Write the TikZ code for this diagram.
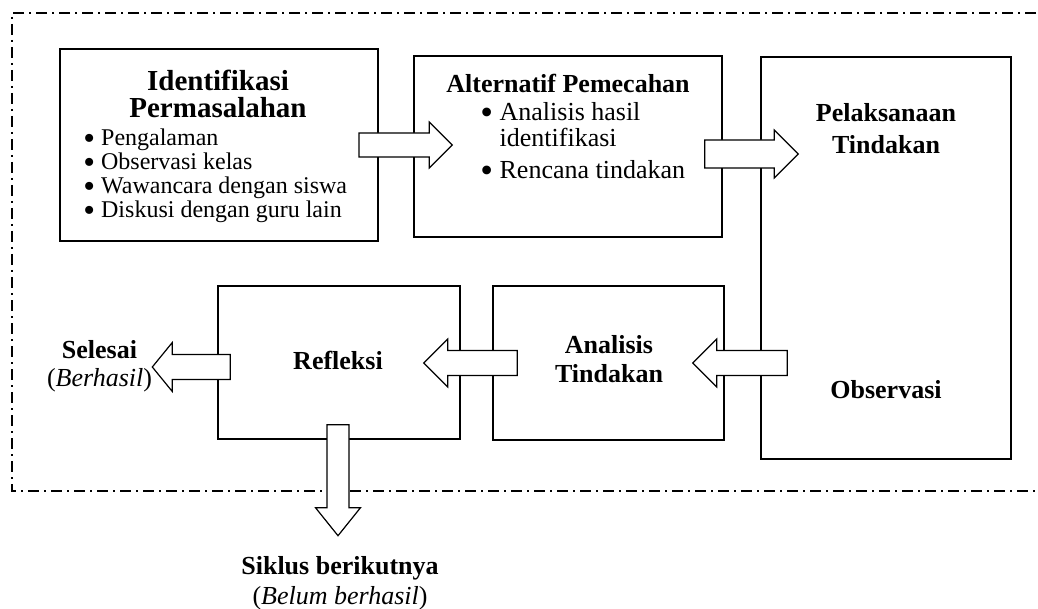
\documentclass[tikz,border=0pt]{standalone}
\usepackage{fontspec}
\setmainfont{Liberation Serif}
\usepackage{tikz}
\usetikzlibrary{calc,positioning}

% hollow block arrow: tail, tip, half shaft, half head, head length
\newcommand{\blockarrow}[5]{%
  \coordinate (hb) at ($(#2)!#5!(#1)$);
  \filldraw[arrowline] ($(#1)!#3!90:(#2)$) -- ($(hb)!#3!90:(#2)$) -- ($(hb)!#4!90:(#2)$) -- (#2)
    -- ($(hb)!#4!-90:(#2)$) -- ($(hb)!#3!-90:(#2)$) -- ($(#1)!#3!-90:(#2)$) -- cycle;}
\newcommand{\bul}{\raisebox{-0.32ex}[0pt][0pt]{\scalebox{1.4}{\textbullet}}\ }

\begin{document}
\begin{tikzpicture}[x=0.5pt,y=-0.5pt,
    box/.style={draw,line width=0.7pt,inner sep=0pt},
    arrowline/.style={draw,fill=white,line width=0.6pt,line join=miter},
    title/.style={font=\fontsize{13}{16}\selectfont\bfseries,align=center,inner sep=0pt},
    bullets/.style={align=left,inner sep=0pt,anchor=west}]
    \useasboundingbox (0,0) rectangle (1038,609);
    % outer frame, open on the right
    \draw[line width=0.6pt,dash pattern=on 5.5pt off 2.5pt on 1pt off 2.5pt]
        (1036,13) -- (12,13) -- (12,491) -- (1036,491);
    % boxes
    \node[box,line width=1pt,minimum width=159pt,minimum height=96pt] (ident) at (219,145) {};
    \node[box,minimum width=154pt,minimum height=90.5pt] (alt) at (568,146.5) {};
    \node[box,minimum width=125pt,minimum height=201pt] (pel) at (886,258) {};
    \node[box,minimum width=115.5pt,minimum height=77pt] (anl) at (608.5,363) {};
    \node[box,minimum width=121pt,minimum height=76.5pt] (ref) at (339,362.5) {};
    % arrows
    \coordinate (a1s) at ($(ident.east)+(-10pt,0)$);
    \coordinate (a1e) at ($(alt.west |- a1s)+(19.5pt,0)$);
    \blockarrow{a1s}{a1e}{6pt}{11.5pt}{11.5pt}
    \coordinate (a2s) at ($(alt.east)+(-9pt,-3.75pt)$);
    \coordinate (a2e) at ($(pel.west |- a2s)+(19pt,0)$);
    \blockarrow{a2s}{a2e}{7pt}{12pt}{12pt}
    \coordinate (a3s) at ($(pel.west |- anl.east)+(13.5pt,0)$);
    \coordinate (a3e) at ($(anl.east)+(-16pt,0)$);
    \blockarrow{a3s}{a3e}{6.25pt}{12pt}{12pt}
    \coordinate (a4s) at ($(anl.west)+(12.5pt,0)$);
    \coordinate (a4e) at ($(ref.east |- anl.west)+(-18.5pt,0)$);
    \blockarrow{a4s}{a4e}{6.25pt}{12pt}{12pt}
    \coordinate (a5s) at ($(ref.west)+(6.5pt,-2.25pt)$);
    \coordinate (a5e) at ($(ref.west |- a5s)+(-32.5pt,0)$);
    \blockarrow{a5s}{a5e}{6.25pt}{12.25pt}{10pt}
    \coordinate (a6s) at ($(ref.south)+(-0.5pt,7.5pt)$);
    \coordinate (a6e) at ($(a6s)+(0,-55.5pt)$);
    \blockarrow{a6s}{a6e}{5.5pt}{11.25pt}{14pt}
    % texts
    \node[title,font=\fontsize{14.5}{13.5}\selectfont\bfseries] (identT) at (218,93.5) {Identifikasi\\Permasalahan};
    \node[bullets,font=\fontsize{12}{12}\selectfont] (identL) at (83,176)
        {\bul Pengalaman\\\bul Observasi kelas\\\bul Wawancara dengan siswa\\\bul Diskusi dengan guru lain};
    \node[title] (altT) at (568,83) {Alternatif Pemecahan};
    \node[bullets,font=\fontsize{13}{13}\selectfont] (altL) at (480,141)
        {\bul Analisis hasil\\\hphantom{\bul}identifikasi\\[3pt]\bul Rencana tindakan};
    \node[title] (pelT) at (886,129) {Pelaksanaan\\Tindakan};
    \node[title] (obsT) at (886,390) {Observasi};
    \node[title,font=\fontsize{13}{14.5}\selectfont\bfseries] (anlT) at (609,359.5) {Analisis\\Tindakan};
    \node[title] (refT) at (338,360) {Refleksi};
    \node[title,font=\fontsize{13}{14}\selectfont\bfseries] (selesai) at (99.5,366) {Selesai\\\mdseries(\textit{Berhasil})};
    \node[title,font=\fontsize{13}{15}\selectfont\bfseries] (siklus) at (340,583) {Siklus berikutnya\\\mdseries(\textit{Belum berhasil})};
\end{tikzpicture}
\end{document}
